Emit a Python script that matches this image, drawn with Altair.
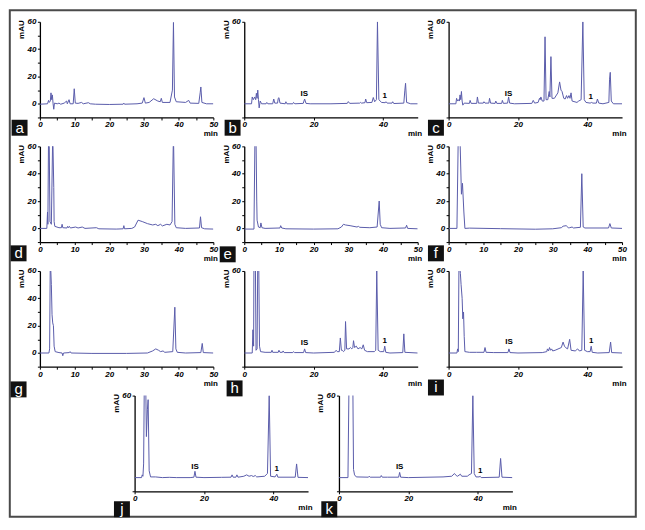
import altair as alt
import pandas as pd

# ---------------- data (time [min], signal [mAU]) ----------------
A = [(0,-0.3),(2.2,0),(2.5,2.5),(2.7,1),(3.0,2),(3.2,8),(3.4,3),(3.6,6.5),(3.8,0),(4.0,-4),(4.2,0.5),
     (5.0,0),(5.5,0.5),(6.0,-0.3),(7.0,0.5),(7.7,2),(7.9,0),(8.4,3),(8.7,0),(9.6,0),(9.9,11),(10.2,0.5),
     (11,0.3),(12,1),(12.5,0),(14,0.8),(14.5,0),(16,-0.3),(20,-0.5),(24,-0.3),(24.2,0.5),(24.4,-0.3),
     (28,0),(29.5,0.5),(30.0,4.5),(30.4,0.5),(31.5,1),(32.8,3.7),(34,2),(34.7,1.5),(35.0,4),(35.3,1),
     (37.5,1),(38.2,10),(38.5,59.5),(38.8,5),(39.3,1.5),(42,1),(42.9,2.5),(43.3,0.5),(45.8,0.3),(46.2,8),
     (46.4,12.3),(46.7,1),(48,0),(50,0)]
B = [(0,0),(2.1,0),(2.3,5),(2.6,3),(3.0,5),(3.3,3),(3.5,7.7),(3.7,4),(3.9,10),(4.1,3),(4.3,-3),(4.6,2),
     (5,0),(6.3,0),(6.5,1),(6.8,0),(8.2,0),(8.5,3.5),(8.8,0.5),(9.6,0.5),(9.8,4),(10.0,4.5),(10.3,0.5),
     (11.8,0),(12.0,1.5),(12.3,0),(14,0),(14.2,1),(14.6,0),(17.0,0.3),(17.4,3.5),(17.8,0.3),(19,0),(25,0),
     (29.7,0.3),(30.0,1.6),(30.4,0.3),(33.3,0.5),(33.5,1),(33.8,0.5),(34.8,0.8),(35.0,3.5),(35.3,0.8),
     (36.8,1),(37.2,4.6),(37.6,1.5),(38.1,3),(38.4,60),(38.8,3),(39.6,1),(40.6,0.8),(40.9,1.5),(41.2,0.5),
     (42.6,0.5),(42.8,1.5),(43.1,0.2),(46.0,0.5),(46.3,10),(46.5,15),(46.8,1),(48,0),(50,0)]
C = [(0,0),(2.1,0),(2.3,4),(2.6,2),(2.9,3),(3.1,2),(3.3,6.5),(3.5,3),(3.7,9),(3.9,2),(4.1,-1),(4.5,0.5),
     (6.0,0.3),(6.2,2.5),(6.5,0.3),(8.1,0.3),(8.3,5),(8.6,0.5),(10,0.5),(10.2,1.5),(10.5,0.5),(11.6,0.5),
     (11.8,4),(12.1,0.5),(13.4,0.3),(13.6,2),(13.9,0.3),(15.3,0.3),(15.5,2.5),(15.8,0.3),(17.0,0.5),
     (17.3,5),(17.6,0.5),(19,0),(24,0.3),(24.4,2.5),(24.8,0.5),(25.8,1),(26.2,4),(26.4,3),(26.6,5),
     (27.0,2),(27.5,2),(27.8,49),(28.1,3),(28.6,3),(29.0,9),(29.2,5),(29.5,34.5),(29.8,4),(30.5,4),
     (31.5,8),(32.0,16),(32.4,10),(32.7,9),(33.2,4),(33.6,3.5),(34.0,6),(34.3,4),(34.7,6),(35.0,4),
     (35.3,8),(35.6,2),(37,1),(37.5,2),(38.2,3),(38.7,60),(39.1,3),(39.6,1),(40.8,0.5),(41.2,1),(41.6,0.5),
     (42.6,0.5),(42.9,3.5),(43.3,0.5),(44.5,0),(46.2,1),(46.4,18),(46.6,23),(46.9,2),(47.5,0),(50,0)]
D = [(0,0),(2.0,0),(2.2,12),(2.3,3),(2.5,70),(2.7,60),(2.9,5),(3.3,3),(3.7,70),(4.0,30),(4.1,5),(4.3,1.5),
     (5.5,0.5),(6.2,0.5),(6.4,3),(6.6,0.5),(7.8,0.3),(8.0,1.5),(8.2,0.5),(8.5,1.5),(8.8,0.3),(10.3,1),
     (11,0.3),(12.2,1),(13,0),(16.3,0.5),(17,-0.3),(22,-0.5),(24.0,-0.3),(24.2,2),(24.4,-0.3),(26.5,0),
     (27.3,1),(28.3,6),(29.5,5),(31,3.5),(32.5,2.5),(33.4,3),(34.0,2),(34.8,3),(35.3,1.8),(36.6,3),
     (37.5,2.5),(38.1,5),(38.5,70),(38.9,3),(39.3,0.5),(42,0),(46.0,0.3),(46.3,8.5),(46.6,0.5),(47.5,-0.3),
     (50,-0.5)]
E = [(0,-0.5),(2.8,-0.5),(3.1,70),(3.4,65),(3.6,20),(3.7,6),(4.1,1),(4.6,0.5),(4.8,4),(5.1,0.5),(6,0),
     (10.3,0.3),(10.5,2),(10.8,0.3),(12,-0.3),(20,-0.5),(27,-0.3),(28.0,1),(28.6,3),(29.2,2.5),(30.5,2),
     (32.5,1),(32.9,1.5),(33.3,0.8),(36.2,0.5),(38.3,1),(38.9,20),(39.2,3),(39.6,0.5),(42,0),(46.5,0.3),
     (46.8,2.3),(47.1,0),(50,-0.3)]
F = [(0,0),(2.4,0),(2.8,70),(3.3,65),(3.7,25),(4.0,33),(4.4,12),(4.7,0),(6,0.2),(15,-0.2),(25,-0.6),
     (30,-0.3),(32.5,0.5),(33.0,1.6),(33.9,2),(34.5,0.5),(34.9,0.5),(35.6,1),(36,0.3),(38.0,0.8),(38.4,40),
     (38.8,1),(39.3,0.3),(46.1,0.3),(46.5,3.5),(46.9,0.3),(50,0)]
G = [(0,0),(2.6,0),(2.8,3),(3.0,70),(3.3,50),(3.5,28),(3.7,22),(3.9,20),(4.1,5),(4.4,1),(5.5,0.3),
     (6.4,0),(6.6,-2),(6.8,0),(8.5,0.3),(8.7,1),(9,0),(15,-0.3),(25,-0.3),(31,0),(32.5,1.5),(33.4,3),
     (34.2,2),(34.8,1),(35.5,1.5),(36,0.5),(38.3,1),(38.9,33.5),(39.2,3),(39.6,0.5),(42,0),(46.4,0.3),
     (46.8,7),(47.1,0.3),(50,0)]
H = [(0,0),(2.3,0),(2.5,17),(2.7,5),(2.8,70),(3.2,70),(3.4,2),(3.7,3),(3.9,70),(4.2,60),(4.4,5),(4.7,1),
     (6,0.5),(7.8,0.5),(8.0,2),(8.2,0.5),(9.8,0.5),(10.0,2),(10.3,0.5),(11,0.5),(11.2,1.5),(11.5,0.3),
     (14,0.3),(14.2,1),(14.5,0.3),(17.1,0.3),(17.4,3),(17.7,0.3),(20,0),(26,0.5),(26.5,2),(26.8,1),
     (27.4,1),(27.7,11),(28.0,2),(28.3,2),(28.6,1),(29.0,2),(29.2,23),(29.5,3),(30.2,3),(30.6,4),(31.0,3),
     (31.3,4),(31.5,9),(31.8,4),(32.3,5),(32.8,3),(33.4,4),(33.9,3),(34.3,6),(34.7,2),(35.5,1),(37.5,1),
     (37.9,2),(38.2,60),(38.6,2),(39.2,1),(40.2,1),(40.5,5),(40.8,0.5),(42,0),(45.7,0.3),(46.0,14),
     (46.3,0.5),(50,0)]
I = [(0,0),(2.4,0),(2.6,3),(2.8,1),(3.0,70),(3.4,58),(3.6,50),(3.9,40),(4.1,25),(4.3,30),(4.5,12),(4.7,1),
     (6,0.5),(8,0.5),(10.2,0.5),(10.5,4),(10.8,0.5),(13,0.3),(17.1,0.3),(17.4,3),(17.7,0.3),(20,0),
     (27,0.3),(28.3,1),(28.5,3),(28.8,1.5),(29.1,4),(29.4,2),(29.7,3),(30.0,1.5),(30.7,2),(32.5,4),
     (33.0,8),(33.4,5),(33.7,4),(34.3,3),(34.9,10),(35.3,2),(36.5,1.5),(37.2,3),(37.7,1.5),(38.4,2),
     (38.8,60),(39.2,2),(40.0,1),(40.8,1),(41.1,5),(41.4,0.5),(43,0),(46.3,0.3),(46.7,8),(47.0,0.3),(50,0)]
J = [(0,0),(2.0,0),(2.2,2),(2.4,1),(2.6,10),(2.8,70),(3.2,70),(3.4,30),(3.7,50),(3.9,57),(4.2,5),
     (4.6,0.5),(6,0.5),(8,0),(10,0.2),(12,0),(16,0),(17.1,0.3),(17.4,4.6),(17.7,0.3),(20,0),(25,0.2),
     (27.8,0.3),(28.1,2),(28.4,0.3),(29.2,0.3),(29.5,2),(29.8,0.3),(31.5,1),(32.3,2),(33,1),(33.7,1.5),
     (34.2,0.8),(34.8,1.5),(35.2,0.5),(37.5,1),(37.9,2),(38.3,3),(38.8,60),(39.2,1),(40.5,0.5),(41.0,2.5),
     (41.3,0.3),(46.3,0.3),(46.7,10),(47.1,0.2),(50,0)]
K = [(0,0),(2.6,0),(2.9,70),(3.5,65),(4.0,70),(4.2,6),(4.5,2),(5,0.5),(8.5,0.3),(8.7,1),(9,0.3),
     (12.0,0.3),(12.2,1.5),(12.5,0.3),(14,0.3),(17.2,0.3),(17.5,3.8),(17.8,0.3),(20,0),(30,0.5),(32.5,1),
     (33.3,3),(33.8,1.5),(34.2,1),(35.0,2.5),(35.4,1),(37.0,1),(37.5,2),(38.2,3),(38.6,60),(39.0,3),
     (39.5,0.5),(40.4,0.5),(40.7,1),(41,0),(46.2,0.3),(46.6,14),(47.0,0.3),(50,0)]

TRACES = {"a": A, "b": B, "c": C, "d": D, "e": E, "f": F, "g": G, "h": H, "i": I, "j": J, "k": K}

# peak annotations: (text, time, mAU)
NOTES = {
    "b": [("IS", 17.3, 7.5), ("1", 40.5, 5.5)],
    "c": [("IS", 17.3, 7.5), ("1", 41.0, 5.0)],
    "h": [("IS", 17.4, 7.6), ("1", 40.5, 9.0)],
    "i": [("IS", 17.4, 7.7), ("1", 41.1, 9.0)],
    "j": [("IS", 17.4, 8.0), ("1", 41.0, 6.0)],
    "k": [("IS", 17.5, 7.5), ("1", 40.7, 5.0)],
}

# ---------------- layout / style ----------------
W, H_ = 174, 96
LINE = "#5a5cab"
FONT = "Liberation Sans"
# letter-box centres relative to each panel's plot origin (px)
BOX = {"a": (-20.4, 106.3), "b": (-11.7, 106.3), "c": (-12.7, 106.3),
       "d": (-21.4, 107.3), "e": (-16.6, 108.3), "f": (-12.7, 107.3),
       "g": (-21.4, 118.8), "h": (-9.7, 117.8), "i": (-12.7, 116.9),
       "j": (-12.7, 114.0), "k": (-9.7, 114.0)}

one = pd.DataFrame({"v": [0]})

xaxis = alt.Axis(values=list(range(0, 51, 5)),
                 labelExpr="datum.value % 10 === 0 ? datum.label : ''",
                 title="min", titleX=W + 4, titleY=16.5, titleAlign="right", titleBaseline="middle",
                 titleFont=FONT, titleFontSize=8, titleFontWeight="bold", titleColor="black",
                 labelFont=FONT, labelFontSize=8, labelFontWeight="bold", labelFontStyle="italic",
                 labelColor="black", labelFlush=False, labelPadding=1, tickSize=2.5,
                 tickColor="black", domainColor="black", domainWidth=1.3, grid=False)
yaxis = alt.Axis(values=list(range(-10, 61, 10)),
                 labelExpr="datum.value % 20 === 0 ? datum.label : ''",
                 title="mAU", titleAngle=270, titleX=-18, titleY=-2, titleAlign="right",
                 titleBaseline="middle",
                 titleFont=FONT, titleFontSize=8, titleFontWeight="bold", titleColor="black",
                 labelFont=FONT, labelFontSize=8, labelFontWeight="bold", labelFontStyle="italic",
                 labelColor="black", labelPadding=1.5, tickSize=2.5,
                 tickColor="black", domainColor="black", domainWidth=1.3, grid=False)


def panel(key, frame=False):
    df = pd.DataFrame(TRACES[key], columns=["t", "mAU"])
    xs = alt.Scale(domain=[0, 50], nice=False, zero=False)
    ys = alt.Scale(domain=[-10, 60], nice=False, zero=False)
    line = alt.Chart(df).mark_line(color=LINE, strokeWidth=1, clip=True).encode(
        x=alt.X("t:Q", scale=xs, axis=xaxis),
        y=alt.Y("mAU:Q", scale=ys, axis=yaxis),
    )
    layers = [line]
    if key in NOTES:
        nd = pd.DataFrame(NOTES[key], columns=["txt", "t", "mAU"])
        layers.append(alt.Chart(nd).mark_text(font=FONT, fontSize=8, fontWeight="bold",
                                              color="black", baseline="middle").encode(
            x=alt.X("t:Q", scale=xs), y=alt.Y("mAU:Q", scale=ys), text="txt:N"))
    cx, cy = BOX[key]
    layers.append(alt.Chart(one).mark_rect(color="#111111").encode(
        x=alt.value(cx - 8), x2=alt.value(cx + 8), y=alt.value(cy - 8), y2=alt.value(cy + 8)))
    layers.append(alt.Chart(one).mark_text(text=key, font=FONT, fontSize=15, color="white",
                                           baseline="alphabetic", align="center").encode(
        x=alt.value(cx), y=alt.value(cy + 5)))
    if frame:
        layers.append(alt.Chart(one).mark_rect(filled=False, stroke="#4a4a4a", strokeWidth=2).encode(
            x=alt.value(-30.2), x2=alt.value(597.8), y=alt.value(-11.5), y2=alt.value(496.5)))
    return alt.layer(*layers).properties(width=W, height=H_)


spacer = alt.Chart(one).mark_point(opacity=0).encode(
    x=alt.value(0), y=alt.value(0)).properties(width=64, height=H_)

row1 = alt.hconcat(panel("a", frame=True), panel("b"), panel("c"), spacing=31, bounds="flush")
row2 = alt.hconcat(panel("d"), panel("e"), panel("f"), spacing=31, bounds="flush")
row3 = alt.hconcat(panel("g"), panel("h"), panel("i"), spacing=31, bounds="flush")
row4 = alt.hconcat(spacer, panel("j"), panel("k"), spacing=31, bounds="flush")

# nested rows count as zero height in a flush layout, so spacing is the full row step
chart = alt.vconcat(row1, row2, row3, row4, spacing=125, bounds="flush").properties(
    padding=0, background="white"
).configure_view(strokeWidth=0)

chart.save("out.html", embed_options={"renderer": "svg", "actions": False})
